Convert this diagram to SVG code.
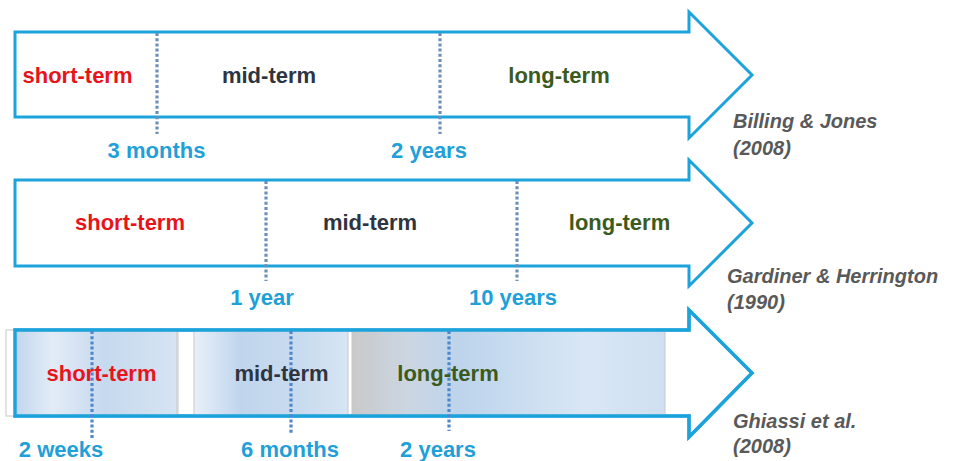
<svg xmlns="http://www.w3.org/2000/svg" width="960" height="461" viewBox="0 0 960 461">
<defs>
<linearGradient id="g1" x1="0" y1="0" x2="1" y2="0">
<stop offset="0" stop-color="#c3d7ed"/>
<stop offset="0.22" stop-color="#e2ecf7"/>
<stop offset="0.55" stop-color="#c6d9ee"/>
<stop offset="1" stop-color="#d6e4f3"/>
</linearGradient>
<linearGradient id="g2" x1="0" y1="0" x2="1" y2="0">
<stop offset="0" stop-color="#e8f0f9"/>
<stop offset="0.3" stop-color="#c0d5ed"/>
<stop offset="0.7" stop-color="#c9dbef"/>
<stop offset="1" stop-color="#d7e5f4"/>
</linearGradient>
<linearGradient id="g3" x1="0" y1="0" x2="1" y2="0">
<stop offset="0" stop-color="#c9c9ca"/>
<stop offset="0.18" stop-color="#cbd6e2"/>
<stop offset="0.35" stop-color="#bdd4ec"/>
<stop offset="0.75" stop-color="#d9e7f5"/>
<stop offset="1" stop-color="#cfdff1"/>
</linearGradient>
<style>
.arrow{fill:#ffffff;stroke:#1ca3dc;stroke-width:3;stroke-linejoin:miter}
.outline{fill:none;stroke:#1ca3dc;stroke-width:3.5}
.dot{stroke:#6d8fba;stroke-width:3.2;stroke-dasharray:3 2.2}
.dot3{stroke:#4f88cc;stroke-width:3.2;stroke-dasharray:3 2.2}
.t{font-family:"Liberation Sans",Arial,sans-serif;font-weight:bold;font-size:22px;text-anchor:middle}
.short{fill:#e8141c}
.mid{fill:#2e3440}
.long{fill:#3b5a20}
.lab{font-family:"Liberation Sans",Arial,sans-serif;font-weight:bold;font-size:22px;text-anchor:middle;fill:#1fa0d8}
.auth{font-family:"Liberation Sans",Arial,sans-serif;font-weight:bold;font-style:italic;font-size:20px;fill:#595959}
.box{stroke:#c8c8c8;stroke-width:1}
</style>
</defs>

<g id="billing-jones">
<path class="arrow" d="M15,32 H689 V12 L752,75 L689,138 V117 H15 Z"/>
<text class="t short" x="77.5" y="83">short-term</text>
<text class="t mid" x="269" y="83">mid-term</text>
<text class="t long" x="559" y="83">long-term</text>
<text class="lab" x="156.5" y="158">3 months</text>
<text class="lab" x="429" y="158">2 years</text>
<text class="auth" x="733" y="128">Billing &amp; Jones</text>
<text class="auth" x="733" y="155">(2008)</text>
</g>

<g id="gardiner-herrington">
<path class="arrow" d="M15,180 H689 V160 L752,223 L689,286 V266 H15 Z"/>
<text class="t short" x="130" y="230">short-term</text>
<text class="t mid" x="370" y="230">mid-term</text>
<text class="t long" x="619.5" y="230">long-term</text>
<text class="lab" x="262" y="305">1 year</text>
<text class="lab" x="513" y="305">10 years</text>
<text class="auth" x="727" y="283">Gardiner &amp; Herrington</text>
<text class="auth" x="727" y="309">(1990)</text>
</g>

<g id="ghiassi">
<path class="arrow" d="M15,330 H689 V310 L752,373 L689,437 V416 H15 Z"/>
<rect class="box" x="6" y="330" width="172" height="86" fill="#ffffff"/>
<rect class="box" x="17" y="331" width="160" height="84" fill="url(#g1)"/>
<rect class="box" x="194" y="331" width="154" height="84" fill="url(#g2)"/>
<rect class="box" x="352" y="331" width="313" height="84" fill="url(#g3)"/>
<path class="outline" d="M15,330 H689 V310 L752,373 L689,437 V416 H15 Z"/>
</g>

<g id="connectors">
<line class="dot" x1="157" y1="33" x2="157" y2="134"/>
<line class="dot" x1="440" y1="33" x2="440" y2="134"/>
<line class="dot" x1="266" y1="181" x2="266" y2="281"/>
<line class="dot" x1="517" y1="181" x2="517" y2="281"/>
<line class="dot3" x1="92" y1="331" x2="92" y2="438"/>
<line class="dot3" x1="291" y1="331" x2="291" y2="433"/>
<line class="dot3" x1="449" y1="331" x2="449" y2="431"/>
</g>

<g id="ghiassi-labels">
<text class="t short" x="101.5" y="381">short-term</text>
<text class="t mid" x="281.5" y="381">mid-term</text>
<text class="t long" x="448" y="381">long-term</text>
<text class="lab" x="61" y="457">2 weeks</text>
<text class="lab" x="290" y="457">6 months</text>
<text class="lab" x="438" y="457">2 years</text>
<text class="auth" x="733" y="428">Ghiassi et al.</text>
<text class="auth" x="733" y="453">(2008)</text>
</g>
</svg>
